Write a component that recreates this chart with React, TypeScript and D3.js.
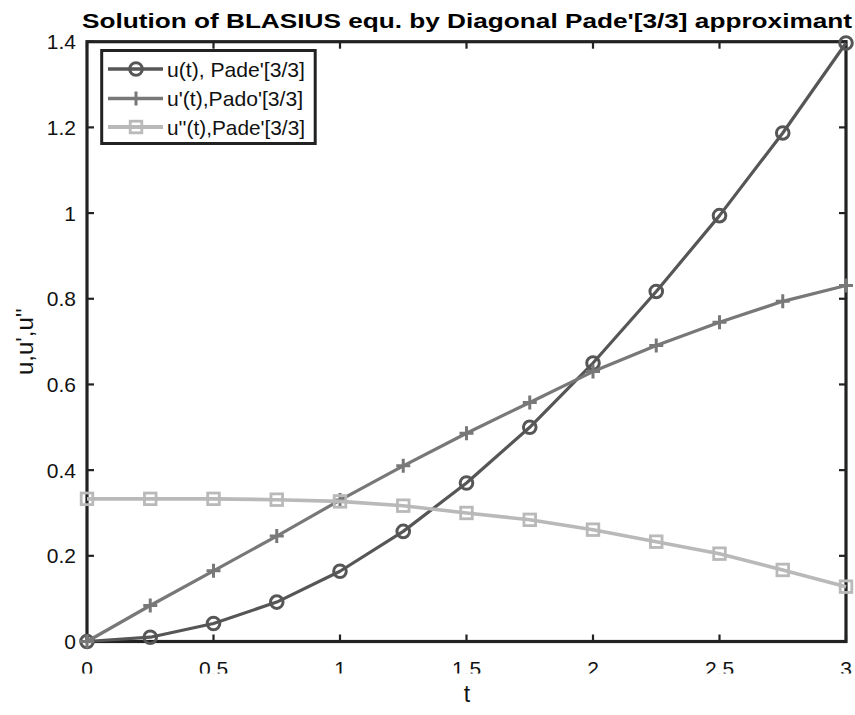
import React from "react";
import * as d3 from "d3";

const tValues = [0, 0.25, 0.5, 0.75, 1, 1.25, 1.5, 1.75, 2, 2.25, 2.5, 2.75, 3];
const uValues = [0, 0.010, 0.042, 0.092, 0.164, 0.257, 0.370, 0.500, 0.650, 0.817, 0.994, 1.187, 1.397];
const upValues = [0, 0.084, 0.165, 0.246, 0.330, 0.410, 0.486, 0.558, 0.630, 0.691, 0.745, 0.794, 0.831];
const uppValues = [0.333, 0.333, 0.333, 0.331, 0.327, 0.317, 0.300, 0.284, 0.261, 0.233, 0.205, 0.167, 0.128];
const xTicks = [0, 0.5, 1, 1.5, 2, 2.5, 3];
const xTickLabels = ["0", "0.5", "1", "1.5", "2", "2.5", "3"];
const yTicks = [0, 0.2, 0.4, 0.6, 0.8, 1, 1.2, 1.4];
const yTickLabels = ["0", "0.2", "0.4", "0.6", "0.8", "1", "1.2", "1.4"];
const seriesNames = ["u(t), Pade'[3/3]", "u'(t),Pado'[3/3]", "u''(t),Pade'[3/3]"];
const titleText = "Solution of BLASIUS equ. by Diagonal Pade'[3/3] approximant";

const W = 855, H = 715;
const X0 = 87, X1 = 846, Y0 = 641.5, Y1 = 41.7;
const FONT = "'Liberation Sans', Arial, Helvetica, sans-serif";
const AXC = "#222";

type Marker = "circle" | "plus" | "square";

function MarkerShape({ kind, cx, cy, color }: { kind: Marker; cx: number; cy: number; color: string }) {
  if (kind === "circle") return <circle cx={cx} cy={cy} r={6.3} fill="none" stroke={color} strokeWidth={3} />;
  if (kind === "plus")
    return (
      <path d={`M${cx - 7},${cy}H${cx + 7}M${cx},${cy - 7}V${cy + 7}`} stroke={color} strokeWidth={3} fill="none" />
    );
  return <rect x={cx - 5.8} y={cy - 5.8} width={11.6} height={11.6} fill="none" stroke={color} strokeWidth={2.8} />;
}

export default function App() {
  const x = d3.scaleLinear().domain([0, 3]).range([X0, X1]);
  const y = d3.scaleLinear().domain([0, 1.4]).range([Y0, Y1]);

  const series: { vals: number[]; color: string; marker: Marker; w: number }[] = [
    { vals: uValues, color: "#565656", marker: "circle", w: 3.2 },
    { vals: upValues, color: "#787878", marker: "plus", w: 3.2 },
    { vals: uppValues, color: "#b9b9b9", marker: "square", w: 3.6 },
  ];

  const line = d3
    .line<number>()
    .x((_, i) => x(tValues[i]))
    .y((d) => y(d));

  const tickLen = 7;
  const legX = 101.7, legY = 50.5, legW = 213.5, legH = 93;
  const rowY = [69, 98.5, 127];

  return (
    <svg width={W} height={H} style={{ position: "absolute", left: 0, top: 0, background: "#fff" }} fontFamily={FONT}>
      <defs>
        <clipPath id="xlabclip">
          <rect x={0} y={0} width={W} height={673.5} />
        </clipPath>
      </defs>
      <rect x={0} y={0} width={W} height={H} fill="#fff" />

      {/* axes box */}
      <rect x={X0} y={Y1} width={X1 - X0} height={Y0 - Y1} fill="none" stroke={AXC} strokeWidth={3.2} />
      {xTicks.map((t, i) => (
        <g key={"xt" + i}>
          <line x1={x(t)} x2={x(t)} y1={Y0} y2={Y0 - tickLen} stroke={AXC} strokeWidth={2.2} />
          <line x1={x(t)} x2={x(t)} y1={Y1} y2={Y1 + tickLen} stroke={AXC} strokeWidth={2.2} />
        </g>
      ))}
      {yTicks.map((v, i) => (
        <g key={"yt" + i}>
          <line x1={X0} x2={X0 + tickLen} y1={y(v)} y2={y(v)} stroke={AXC} strokeWidth={2.2} />
          <line x1={X1} x2={X1 - tickLen} y1={y(v)} y2={y(v)} stroke={AXC} strokeWidth={2.2} />
        </g>
      ))}

      {/* tick labels */}
      <g clipPath="url(#xlabclip)">
        {xTicks.map((t, i) => (
          <text key={"xl" + i} x={x(t)} y={676} textAnchor="middle" fontSize={21} fill="#111">
            {xTickLabels[i]}
          </text>
        ))}
      </g>
      {yTicks.map((v, i) => (
        <text key={"yl" + i} x={76} y={y(v) + 7.5} textAnchor="end" fontSize={21} fill="#111">
          {yTickLabels[i]}
        </text>
      ))}

      {/* axis labels */}
      <text x={467} y={702} textAnchor="middle" fontSize={23} fill="#111">
        t
      </text>
      <text
        transform={`translate(33,${(Y0 + Y1) / 2}) rotate(-90)`}
        textAnchor="middle"
        fontSize={23}
        fill="#111"
        textLength={67}
        lengthAdjust="spacingAndGlyphs"
      >
        u,u',u''
      </text>

      {/* title */}
      <text
        x={467}
        y={28}
        textAnchor="middle"
        fontSize={21}
        fontWeight="bold"
        fill="#000"
        textLength={770}
        lengthAdjust="spacingAndGlyphs"
      >
        {titleText}
      </text>

      {/* series */}
      {series.map((s, si) => (
        <g key={"s" + si}>
          <path d={line(s.vals) || ""} fill="none" stroke={s.color} strokeWidth={s.w} strokeLinejoin="round" />
          {s.vals.map((v, i) => (
            <MarkerShape key={i} kind={s.marker} cx={x(tValues[i])} cy={y(v)} color={s.color} />
          ))}
        </g>
      ))}

      {/* legend */}
      <rect x={legX} y={legY} width={legW} height={legH} fill="#fff" stroke={AXC} strokeWidth={3} />
      {series.map((s, si) => (
        <g key={"lg" + si}>
          <line x1={108} x2={163} y1={rowY[si]} y2={rowY[si]} stroke={s.color} strokeWidth={s.w + 0.5} />
          <MarkerShape kind={s.marker} cx={136} cy={rowY[si]} color={s.color} />
          <text
            x={167}
            y={rowY[si] + 7.5}
            fontSize={21}
            fill="#111"
            textLength={si === 1 ? 136 : 138}
            lengthAdjust="spacingAndGlyphs"
          >
            {seriesNames[si]}
          </text>
        </g>
      ))}
    </svg>
  );
}
